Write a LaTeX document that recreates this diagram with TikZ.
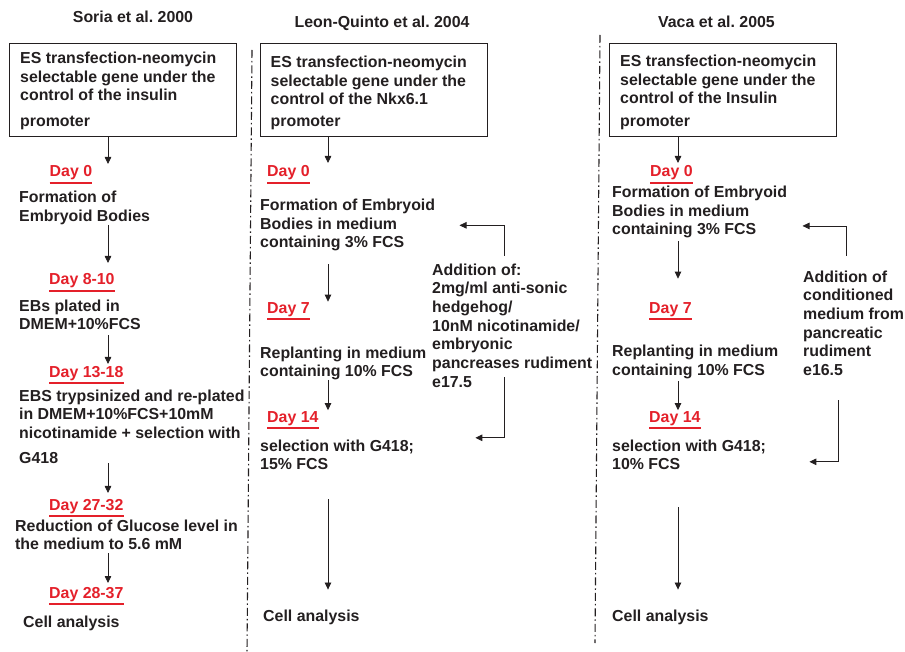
\documentclass[tikz,border=0pt]{standalone}
\usepackage{fontspec}
\setmainfont{Liberation Sans}
\usetikzlibrary{arrows.meta}
\frenchspacing

\definecolor{ink}{RGB}{35,31,32}
\definecolor{dayred}{RGB}{228,32,42}

\newcommand\daylabel[3]{%
  \node[daytxt] (#1) at (#2) {#3};
  \draw[dayline] ([yshift=-5.8pt]#1.base west) -- ([yshift=-5.8pt]#1.base east);}

\begin{document}
\begin{tikzpicture}[x=1pt, y=-1pt,
  every node/.style={font=\bfseries\fontsize{15.9}{18.4}\selectfont, text=ink},
  txt/.style={anchor=base west, align=left, inner sep=0pt},
  wide/.style={txt, font=\bfseries\fontsize{15.9}{18.7}\selectfont},
  ttl/.style={anchor=base, inner sep=0pt},
  daytxt/.style={anchor=base west, inner sep=0pt, text=dayred},
  dayline/.style={draw=dayred, line width=2pt},
  frame/.style={draw=ink, line width=1pt, anchor=north west, minimum width=227pt, minimum height=93pt, inner sep=0pt},
  arr/.style={draw=ink, line width=0.8pt, -{Triangle[length=7pt,width=6.5pt]}},
  divider/.style={draw=ink, line width=1.1pt, dash pattern=on 8pt off 3pt on 1.5pt off 3pt}]

\useasboundingbox (0,0) rectangle (905,652);

% column arrow axes (multi-line nodes are placed by the baseline of their last line)
\coordinate (ax1) at (108,0);
\coordinate (ax2) at (328,0);
\coordinate (ax3) at (678,0);
\coordinate (ar2) at (504,0);
\coordinate (ar3) at (846,0);
\coordinate (br3) at (838,0);

% dash-dot dividers
\coordinate (v1t) at (252,50);
\coordinate (v1b) at (247,652);
\coordinate (v2t) at (600,35);
\coordinate (v2b) at (595,643);
\draw[divider] (v1t) -- (v1b);
\draw[divider] (v2t) -- (v2b);

% titles
\node[ttl] (t1) at (133,23) {Soria et al. 2000};
\node[ttl] (t2) at (382,28) {Leon-Quinto et al. 2004};
\node[ttl] (t3) at (716.5,28) {Vaca et al. 2005};

% construct boxes
\node[frame] (box1) at (9,43) {};
\node[frame] (box2) at (260,43) {};
\node[frame] (box3) at (609,43) {};
\node[txt] (bt1) at (20,127) {ES transfection-neomycin\\selectable gene under the\\control of the insulin\\[7.8pt]promoter};
\node[txt] (bt2) at (270.5,127) {ES transfection-neomycin\\selectable gene under the\\control of the Nkx6.1\\[3.8pt]promoter};
\node[txt] (bt3) at (620,127) {ES transfection-neomycin\\selectable gene under the\\control of the Insulin\\[4.8pt]promoter};

% ---- Soria et al. 2000
\daylabel{d1a}{49.5,177}{Day 0}
\node[txt] (f1) at (19,221.4) {Formation of\\Embryoid Bodies};
\daylabel{d1b}{49,285}{Day 8-10}
\node[txt] (e1) at (19,329.4) {EBs plated in\\DMEM+10\%FCS};
\daylabel{d1c}{49,377}{Day 13-18}
\node[txt] (e2) at (19,463) {EBS trypsinized and re-plated\\in DMEM+10\%FCS+10mM\\nicotinamide + selection with\\[6.6pt]G418};
\daylabel{d1d}{49,510}{Day 27-32}
\node[txt] (r1) at (15,549.4) {Reduction of Glucose level in\\the medium to 5.6 mM};
\daylabel{d1e}{49,598}{Day 28-37}
\node[txt] (c1) at (23,627) {Cell analysis};

\draw[arr] (box1.south -| ax1) -- ([yshift=1.7pt]d1a.north -| ax1);
\draw[arr] (f1.south -| ax1) -- ([yshift=10.7pt]d1b.north -| ax1);
\draw[arr] ([yshift=-5.3pt]e1.south -| ax1) -- ([yshift=1.7pt]d1c.north -| ax1);
\draw[arr] (e2.south -| ax1) -- ([yshift=5.7pt]d1d.north -| ax1);
\draw[arr] ([yshift=-3.3pt]r1.south -| ax1) -- ([yshift=3.7pt]d1e.north -| ax1);

% ---- Leon-Quinto et al. 2004
\daylabel{d2a}{267,177}{Day 0}
\node[txt] (f2) at (260,247.8) {Formation of Embryoid\\Bodies in medium\\containing 3\% FCS};
\daylabel{d2b}{267,313.5}{Day 7}
\node[txt] (r2) at (260,376.4) {Replanting in medium\\containing 10\% FCS};
\daylabel{d2c}{267,422}{Day 14}
\node[txt] (s2) at (260,469.4) {selection with G418;\\15\% FCS};
\node[txt] (c2) at (263,621) {Cell analysis};
\node[wide] (a2) at (432,387.2) {Addition of:\\2mg/ml anti-sonic\\hedgehog/\\10nM nicotinamide/\\embryonic\\pancreases rudiment\\e17.5};

\draw[arr] (box2.south -| ax2) -- ([yshift=2.7pt]d2a.north -| ax2);
\draw[arr] ([yshift=-12.9pt]f2.south -| ax2) -- ([yshift=0.7pt]d2b.north -| ax2);
\draw[arr] (r2.south -| ax2) -- ([yshift=0.7pt]d2c.north -| ax2);
\draw[arr] ([yshift=-29.3pt]s2.south -| ax2) -- ([yshift=19.7pt]c2.north -| ax2);
\draw[arr] ([yshift=7.7pt]a2.north -| ar2) |- ([xshift=24.2pt]f2.east);
\draw[arr] ([yshift=10.5pt]a2.south -| ar2) |- ([xshift=61.2pt,yshift=16.7pt]s2.east);

% ---- Vaca et al. 2005
\daylabel{d3a}{650,177}{Day 0}
\node[wide] (f3) at (612,234.9) {Formation of Embryoid\\Bodies in medium\\containing 3\% FCS};
\daylabel{d3b}{649,313.5}{Day 7}
\node[wide] (r3) at (612,375.2) {Replanting in medium\\containing 10\% FCS};
\daylabel{d3c}{649,422}{Day 14}
\node[txt] (s3) at (612,469.4) {selection with G418;\\10\% FCS};
\node[txt] (c3) at (612,621) {Cell analysis};
\node[wide] (a3) at (803,375.5) {Addition of\\conditioned\\medium from\\pancreatic\\rudiment\\e16.5};

\draw[arr] (box3.south -| ax3) -- ([yshift=2.7pt]d3a.north -| ax3);
\draw[arr] ([yshift=-2.8pt]f3.south -| ax3) -- ([yshift=23.7pt]d3b.north -| ax3);
\draw[arr] ([yshift=-2.5pt]r3.south -| ax3) -- ([yshift=0.7pt]d3c.north -| ax3);
\draw[arr] ([yshift=-37.3pt]s3.south -| ax3) -- ([yshift=19.7pt]c3.north -| ax3);
\draw[arr] ([yshift=14.7pt]a3.north -| ar3) |- ([xshift=15.2pt,yshift=-13.8pt]f3.east);
\draw[arr] ([yshift=-24.2pt]a3.south -| br3) |- ([xshift=43.2pt,yshift=-7.3pt]s3.east);

\end{tikzpicture}
\end{document}
